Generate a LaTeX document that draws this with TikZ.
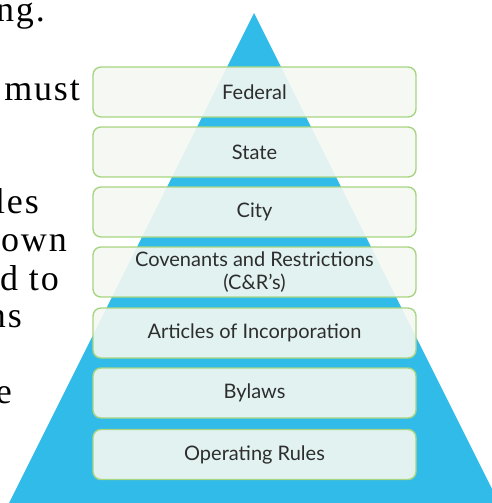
\documentclass[tikz,border=0pt]{standalone}
\usepackage{fontspec}
\newfontfamily\leftfont[LetterSpace=5]{Liberation Serif}
\newfontfamily\boxfont{Lato}
\definecolor{pyrblue}{RGB}{48,187,232}
\definecolor{boxedge}{RGB}{168,213,130}
\definecolor{boxfill}{RGB}{245,248,242}
\definecolor{boxtext}{RGB}{45,45,45}
\tikzset{
  lvl/.style={draw=boxedge, line width=1.4pt, fill=boxfill, fill opacity=0.9, text opacity=1,
    rounded corners=8pt, minimum width=323pt, minimum height=50pt, inner sep=0pt,
    font=\boxfont\fontsize{20}{22.5}\selectfont, text=boxtext, align=center},
  sidetext/.style={font=\leftfont\fontsize{36}{40}\selectfont, anchor=base east, inner sep=0pt, text=black}
}
\begin{document}
\begin{tikzpicture}[x=1pt,y=-1pt]
\useasboundingbox (0,0) rectangle (492,503);
\clip (0,0) rectangle (492,503);
\fill[white] (0,0) rectangle (492,503);
\fill[pyrblue] (254,13) -- (254-260,533) -- (254+260,533) -- cycle;
\node[lvl] (b1) at (254.5,92) {Federal};
\node[lvl] (b2) at (254.5,152) {State};
\node[lvl] (b3) at (254.5,212) {City};
\node[lvl] (b4) at (254.5,272) {Covenants and Restrictions\\(C\&R’s)};
\node[lvl] (b5) at (254.5,333) {Articles of Incorporation};
\node[lvl] (b6) at (254.5,393) {Bylaws};
\node[lvl] (b7) at (254.5,454.5) {Operating Rules};
\node[sidetext] (t1) at (45,22) {ng.};
\node[sidetext] (t2) at (80,100) {must};
\node[sidetext] (t3) at (39,213) {les};
\node[sidetext] (t4) at (67,251.5) {own};
\node[sidetext] (t5) at (59,290) {d to};
\node[sidetext] (t6) at (22,327) {ns};
\node[sidetext] (t7) at (12,403) {e};
\end{tikzpicture}
\end{document}
